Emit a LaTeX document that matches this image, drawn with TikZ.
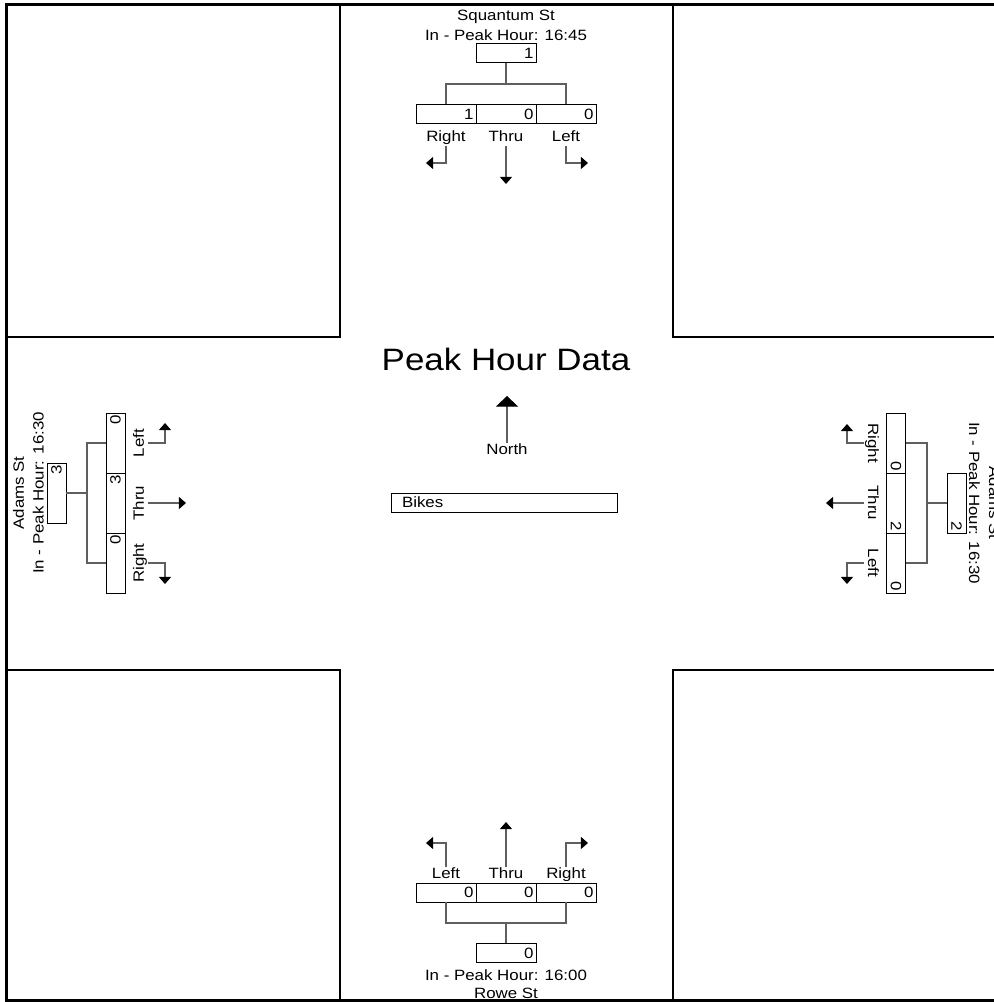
\documentclass[tikz,border=0pt]{standalone}
\usepackage{fontspec}
\setmainfont[FakeStretch=1.13]{Liberation Sans}
\usepackage{tikz}
\usetikzlibrary{arrows.meta}
\definecolor{lineGray}{RGB}{95, 95, 95}
\newcommand{\lblsize}{\fontsize{8.5}{10}\selectfont}

\begin{document}
\begin{tikzpicture}[x=0.02cm, y=-0.02cm,
    blk/.style={draw=black, line width=0.7pt},
    wire/.style={draw=lineGray, line width=0.6pt},
    mv/.style={wire, -{Triangle[width=6.8pt,length=4pt,color=black]}},
    cntbox/.style={draw=black, fill=white, line width=0.5pt, minimum width=1.2cm,
      minimum height=0.38cm, inner sep=0pt, text width=1.1cm, align=right, font=\lblsize},
    lbl/.style={inner sep=0.5pt, text height=6pt, text depth=1.5pt, font=\lblsize},
    street/.style={inner sep=0pt, anchor=base, font=\lblsize}]
  \useasboundingbox (0,0) rectangle (994,1002);
  \clip (0,0) rectangle (994,1002);

  % corner blocks
  \draw[blk] (6.5,4.5) rectangle (340,337);
  \draw[blk] (673,4.5) rectangle (1010,337);
  \draw[blk] (6.5,670) rectangle (340,1000);
  \draw[blk] (673,670) rectangle (1010,1000);

  % Squantum St (north)
  \node[street] (sqName) at (506,20.7) {Squantum St};
  \node[street] (sqPeak) at (506,40.7) {In - Peak Hour: 16:45};
  \node[cntbox] (sqTot) at (506,53) {1};
  \node[cntbox] (sqR) at (446,114) {1};
  \node[cntbox] (sqT) at (506,114) {0};
  \node[cntbox] (sqL) at (566,114) {0};
  \coordinate (sqBusW) at (446,84);
  \coordinate (sqBusE) at (566,84);
  \draw[wire] (sqTot.south) -- (sqTot.south |- sqBusW);
  \draw[wire] (sqR.north) -- (sqBusW) -- (sqBusE) -- (sqL.north);
  \node[lbl] (sqRlab) at (446,138) {Right};
  \node[lbl] (sqTlab) at (506,138) {Thru};
  \node[lbl] (sqLlab) at (566,138) {Left};
  \coordinate (sqRend) at (426,163);
  \coordinate (sqTend) at (506,184);
  \coordinate (sqLend) at (588,163);
  \draw[mv] (sqRlab.south) |- (sqRend);
  \draw[mv] (sqTlab.south) -- (sqTend);
  \draw[mv] (sqLlab.south) |- (sqLend);

  % Rowe St (south)
  \node[cntbox] (rwL) at (446,892.5) {0};
  \node[cntbox] (rwT) at (506,892.5) {0};
  \node[cntbox] (rwR) at (566,892.5) {0};
  \node[cntbox] (rwTot) at (506,953) {0};
  \coordinate (rwBusW) at (446,923);
  \coordinate (rwBusE) at (566,923);
  \draw[wire] (rwL.south) -- (rwBusW) -- (rwBusE) -- (rwR.south);
  \draw[wire] (rwTot.north) -- (rwTot.north |- rwBusW);
  \node[lbl] (rwLlab) at (446,875) {Left};
  \node[lbl] (rwTlab) at (506,875) {Thru};
  \node[lbl] (rwRlab) at (566,875) {Right};
  \coordinate (rwLend) at (426,843);
  \coordinate (rwTend) at (506,822);
  \coordinate (rwRend) at (588,843);
  \draw[mv] (rwLlab.north) |- (rwLend);
  \draw[mv] (rwTlab.north) -- (rwTend);
  \draw[mv] (rwRlab.north) |- (rwRend);
  \node[street] (rwPeak) at (506,980) {In - Peak Hour: 16:00};
  \node[street] (rwName) at (506,998.5) {Rowe St};

  % Adams St (west)
  \node[cntbox, rotate=90] (adwL) at (115.5,443) {0};
  \node[cntbox, rotate=90] (adwT) at (115.5,503) {3};
  \node[cntbox, rotate=90] (adwR) at (115.5,563) {0};
  \node[cntbox, rotate=90] (adwTot) at (56.5,493) {3};
  \coordinate (adwBusN) at (87,443);
  \coordinate (adwBusS) at (87,563);
  \draw[wire] (adwL.north) -- (adwBusN) -- (adwBusS) -- (adwR.north);
  \draw[wire] (adwTot.south) -- (adwTot.south -| adwBusN);
  \node[lbl, rotate=90] (adwLlab) at (140,443) {Left};
  \node[lbl, rotate=90] (adwTlab) at (140,503) {Thru};
  \node[lbl, rotate=90] (adwRlab) at (140,563) {Right};
  \coordinate (adwLend) at (165,423);
  \coordinate (adwTend) at (186,503);
  \coordinate (adwRend) at (165,584);
  \draw[mv] (adwLlab.south) -| (adwLend);
  \draw[mv] (adwTlab.south) -- (adwTend);
  \draw[mv] (adwRlab.south) -| (adwRend);
  \node[street, rotate=90] (adwName) at (24,493) {Adams St};
  \node[street, rotate=90] (adwPeak) at (43.5,493) {In - Peak Hour: 16:30};

  % Adams St (east)
  \node[cntbox, rotate=-90] (adeR) at (896,443) {0};
  \node[cntbox, rotate=-90] (adeT) at (896,503) {2};
  \node[cntbox, rotate=-90] (adeL) at (896,563) {0};
  \node[cntbox, rotate=-90] (adeTot) at (956.5,503) {2};
  \coordinate (adeBusN) at (927,443);
  \coordinate (adeBusS) at (927,563);
  \draw[wire] (adeR.north) -- (adeBusN) -- (adeBusS) -- (adeL.north);
  \draw[wire] (adeTot.south) -- (adeTot.south -| adeBusN);
  \node[lbl, rotate=-90] (adeRlab) at (872,443) {Right};
  \node[lbl, rotate=-90] (adeTlab) at (872,503) {Thru};
  \node[lbl, rotate=-90] (adeLlab) at (872,563) {Left};
  \coordinate (adeRend) at (847,424);
  \coordinate (adeTend) at (826,503);
  \coordinate (adeLend) at (847,584);
  \draw[mv] (adeRlab.south) -| (adeRend);
  \draw[mv] (adeTlab.south) -- (adeTend);
  \draw[mv] (adeLlab.south) -| (adeLend);
  \node[street, rotate=-90] (adePeak) at (969,503) {In - Peak Hour: 16:30};
  \node[street, rotate=-90] (adeName) at (989,503) {Adams St};

  % centre
  \node[inner sep=0pt, anchor=base, font=\fontsize{17.6}{21}\selectfont] (title) at (506,370) {Peak Hour Data};
  \node[lbl] (north) at (507,451) {North};
  \coordinate (northTip) at (507,396);
  \draw[wire, -{Triangle[width=12.5pt,length=6pt,color=black]}] (north.north) -- (northTip);
  \node[draw=black, line width=0.5pt, minimum width=4.52cm, minimum height=0.38cm,
    inner sep=0pt, text width=4.08cm, align=left, font=\lblsize] (bikes) at (504,502.5) {Bikes};

  % outer frame
  \draw[line width=1.7pt] (6.5,4.5) rectangle (1010,1000);
\end{tikzpicture}
\end{document}
